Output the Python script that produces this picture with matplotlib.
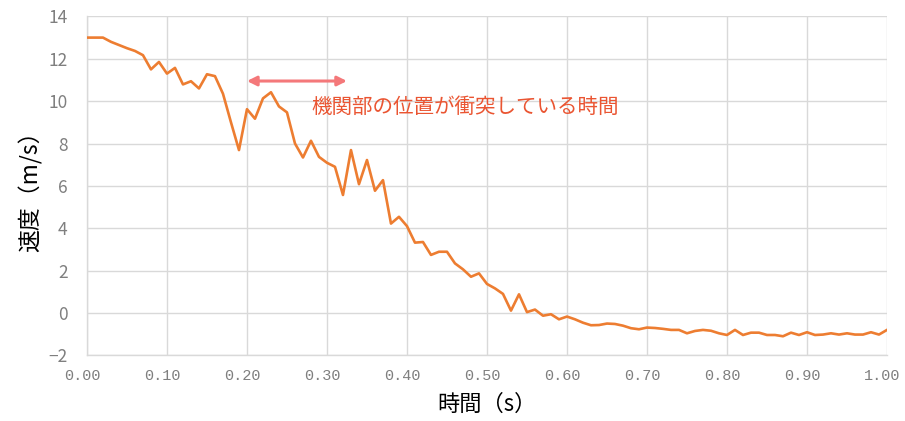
import matplotlib
matplotlib.use("Agg")
import matplotlib.pyplot as plt
from matplotlib.ticker import FixedLocator
from matplotlib.transforms import ScaledTranslation

plt.rcParams['font.family'] = ['Noto Sans CJK JP', 'DejaVu Sans']

time_s = [0.00, 0.01, 0.02, 0.03, 0.04, 0.05, 0.06, 0.07, 0.08, 0.09,
          0.10, 0.11, 0.12, 0.13, 0.14, 0.15, 0.16, 0.17, 0.18, 0.19,
          0.20, 0.21, 0.22, 0.23, 0.24, 0.25, 0.26, 0.27, 0.28, 0.29,
          0.30, 0.31, 0.32, 0.33, 0.34, 0.35, 0.36, 0.37, 0.38, 0.39,
          0.40, 0.41, 0.42, 0.43, 0.44, 0.45, 0.46, 0.47, 0.48, 0.49,
          0.50, 0.51, 0.52, 0.53, 0.54, 0.55, 0.56, 0.57, 0.58, 0.59,
          0.60, 0.61, 0.62, 0.63, 0.64, 0.65, 0.66, 0.67, 0.68, 0.69,
          0.70, 0.71, 0.72, 0.73, 0.74, 0.75, 0.76, 0.77, 0.78, 0.79,
          0.80, 0.81, 0.82, 0.83, 0.84, 0.85, 0.86, 0.87, 0.88, 0.89,
          0.90, 0.91, 0.92, 0.93, 0.94, 0.95, 0.96, 0.97, 0.98, 0.99,
          1.00]

speed = [13.0, 13.0, 13.0, 12.8, 12.65, 12.5, 12.37, 12.17, 11.5, 11.85,
         11.3, 11.57, 10.79, 10.94, 10.6, 11.27, 11.18, 10.35, 9.0, 7.69,
         9.62, 9.17, 10.13, 10.42, 9.75, 9.47, 8.0, 7.34, 8.13, 7.37,
         7.09, 6.9, 5.57, 7.69, 6.08, 7.22, 5.77, 6.27, 4.22, 4.54,
         4.1, 3.32, 3.35, 2.74, 2.89, 2.89, 2.34, 2.06, 1.71, 1.87,
         1.37, 1.16, 0.9, 0.11, 0.88, 0.04, 0.16, -0.13, -0.06, -0.3,
         -0.17, -0.3, -0.46, -0.58, -0.57, -0.5, -0.52, -0.6, -0.72, -0.77,
         -0.69, -0.71, -0.75, -0.8, -0.8, -0.96, -0.85, -0.8, -0.84, -0.96,
         -1.04, -0.8, -1.04, -0.93, -0.93, -1.04, -1.04, -1.1, -0.93, -1.04,
         -0.91, -1.04, -1.02, -0.96, -1.02, -0.96, -1.02, -1.02, -0.91, -1.02,
         -0.8]

x_ticks = [0.0, 0.1, 0.2, 0.3, 0.4, 0.5, 0.6, 0.7, 0.8, 0.9, 1.0]
x_tick_labels = ["0.00", "0.10", "0.20", "0.30", "0.40", "0.50",
                 "0.60", "0.70", "0.80", "0.90", "1.00"]
y_ticks = [-2, 0, 2, 4, 6, 8, 10, 12, 14]
y_tick_labels = ["\u22122", "0", "2", "4", "6", "8", "10", "12", "14"]

annotation_text = "機関部の位置が衝突している時間"
arrow_span = [0.20, 0.325]
arrow_level = 10.95
text_pos = [0.281, 9.72]

fig = plt.figure(figsize=(9.05, 4.21), dpi=100)
ax = fig.add_axes([0.0961, 0.156, 0.8840, 0.805])

ax.plot(time_s, speed, color='#ED7D31', linewidth=1.9, zorder=3)

ax.set_xlim(0, 1.0)
ax.set_ylim(-2, 14)
ax.xaxis.set_major_locator(FixedLocator(x_ticks))
ax.yaxis.set_major_locator(FixedLocator(y_ticks))
ax.set_xticklabels(x_tick_labels, family=['Liberation Mono', 'DejaVu Sans'], fontsize=11)
ax.set_yticklabels(y_tick_labels, fontsize=12.5)
ax.tick_params(axis='both', length=0, colors='#7f7f7f')
ax.tick_params(axis='x', pad=10)
ax.tick_params(axis='y', pad=14)
shift = ScaledTranslation(-4.5 / 100, 0, fig.dpi_scale_trans)
for lab in ax.get_xticklabels():
    lab.set_transform(lab.get_transform() + shift)

ax.grid(True, color='#d9d9d9', linewidth=1.0, zorder=0)
ax.set_axisbelow(True)
for s in ['top', 'right']:
    ax.spines[s].set_visible(False)
for s in ['left', 'bottom']:
    ax.spines[s].set_color('#d9d9d9')
    ax.spines[s].set_linewidth(1.0)

ax.set_xlabel("時間（s）", fontsize=16, color='#000000', labelpad=7)
ax.set_ylabel("速度（m/s）", fontsize=16.5, color='#000000', labelpad=4)

ax.annotate("", xy=(arrow_span[1], arrow_level), xytext=(arrow_span[0], arrow_level),
            arrowprops=dict(arrowstyle='<|-|>', color='#F4787A', lw=2.2,
                            mutation_scale=14, shrinkA=0, shrinkB=0), zorder=4)
ax.text(text_pos[0], text_pos[1], annotation_text, fontsize=14.8, color='#EA5532',
        va='center', ha='left', zorder=4)

fig.savefig("out.png", dpi=100)
